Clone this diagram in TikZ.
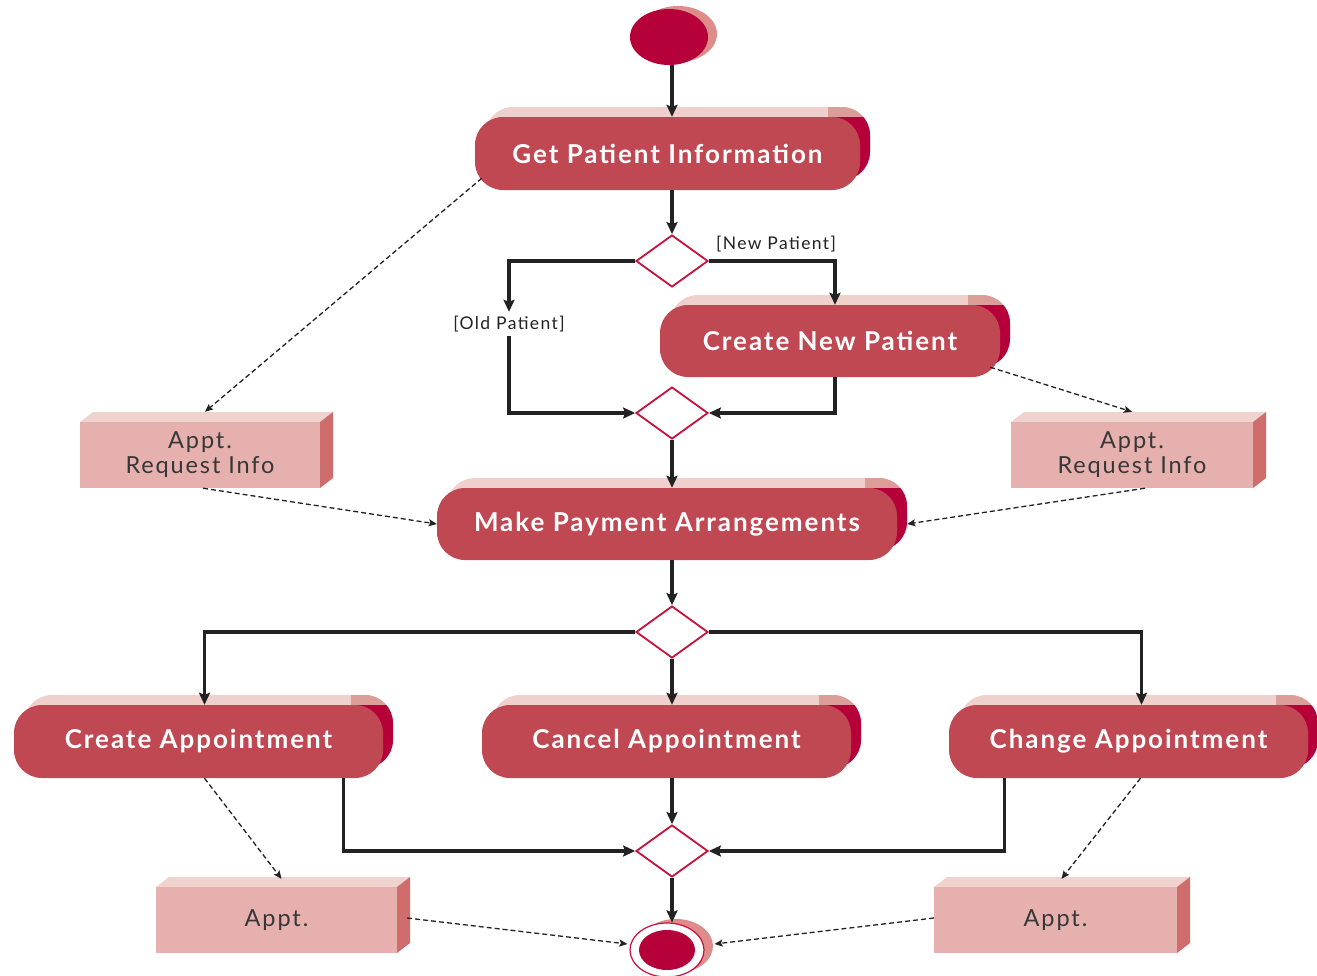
\documentclass[tikz,border=0pt]{standalone}
\usepackage{fontspec}
\setmainfont{Lato}
\newfontfamily\actfont[LetterSpace=7.5]{Lato}
\newfontfamily\objfont[LetterSpace=8]{Lato}
\usetikzlibrary{shapes.geometric,arrows.meta}
\definecolor{actFace}{RGB}{192,72,82}
\definecolor{actTop}{RGB}{240,208,205}
\definecolor{actMid}{RGB}{220,156,152}
\definecolor{crim}{RGB}{181,0,58}
\definecolor{objFace}{RGB}{229,176,173}
\definecolor{objTop}{RGB}{240,210,207}
\definecolor{objSide}{RGB}{207,109,109}
\definecolor{ink}{RGB}{34,34,34}
\definecolor{objText}{RGB}{55,55,55}
\definecolor{ballBack}{RGB}{222,140,138}
\definecolor{decLine}{RGB}{200,16,60}
\tikzset{
  acttext/.style={inner sep=0pt, text=white, font=\actfont\bfseries\fontsize{26}{28}\selectfont},
  objnode/.style={fill=objFace, inner sep=0pt, align=center, text=objText, font=\objfont\fontsize{23.5}{25}\selectfont},
  dec/.style={diamond, draw=decLine, line width=1.8pt, fill=white, minimum width=72pt, minimum height=52pt, inner sep=0pt},
  flow/.style={draw=ink, line width=3.2pt, -{Stealth[length=12pt,width=11pt,inset=2pt]}},
  dflow/.style={draw=ink, line width=1.3pt, dash pattern=on 5pt off 3pt, -{Stealth[length=8pt,width=7pt,inset=1.5pt]}},
  guard/.style={inner sep=0pt, inner ysep=4pt, text=ink, font=\objfont\fontsize{17.5}{19}\selectfont},
}
\newcommand\actbox[6]{%
  \fill[actTop, rounded corners=28pt] (#2+10,#3-10) rectangle (#4+10,#5-10);
  \begin{scope}
    \clip (#4-32,#3-14) rectangle (#4+14,#3);
    \fill[actMid, rounded corners=28pt] (#2+10,#3-10) rectangle (#4+10,#5-10);
  \end{scope}
  \begin{scope}
    \clip (#4-32,#3) rectangle (#4+14,#5);
    \fill[crim, rounded corners=28pt] (#2+10,#3-10) rectangle (#4+10,#5-10);
  \end{scope}
  \fill[actFace, rounded corners=28pt] (#2,#3) rectangle (#4,#5);
  \pgfmathsetmacro\myaw{#4-#2}\pgfmathsetmacro\myah{#5-#3}%
  \node[acttext, minimum width=\myaw pt, minimum height=\myah pt] (#1) at ({(#2+#4)/2},{(#3+#5)/2}) {#6};
}
\newcommand\objbox[6]{%
  \fill[objTop] (#2,#3) -- (#2+13,#3-10) -- (#4+13,#3-10) -- (#4,#3) -- cycle;
  \fill[objSide] (#4,#3) -- (#4+13,#3-10) -- (#4+13,#5-10) -- (#4,#5) -- cycle;
  \pgfmathsetmacro\myaw{#4-#2}\pgfmathsetmacro\myah{#5-#3}%
  \node[objnode, minimum width=\myaw pt, minimum height=\myah pt] (#1) at ({(#2+#4)/2},{(#3+#5)/2}) {#6};
}
\begin{document}
\begin{tikzpicture}[x=1pt,y=-1pt]
\useasboundingbox[fill=white] (0,0) rectangle (1317,975);

% start node
\fill[ballBack] (678,34) ellipse [x radius=39pt, y radius=28pt];
\node[ellipse, fill=crim, minimum width=78pt, minimum height=56pt, inner sep=0pt] (start) at (669,37) {};

% activities
\actbox{gpi}{475}{117}{860}{190}{Get Patient Information}
\actbox{cnp}{660}{305}{1000}{377}{Create New Patient}
\actbox{mpa}{437}{488}{897}{560}{Make Payment Arrangements}
\actbox{cra}{14}{705}{383}{778}{Create Appointment}
\actbox{caa}{482}{705}{851}{778}{Cancel Appointment}
\actbox{cha}{949}{705}{1308}{778}{Change Appointment}

% objects
\objbox{ori1}{80}{422}{320}{488}{Appt.\\Request Info}
\objbox{ori2}{1011}{422}{1253}{488}{Appt.\\Request Info}
\objbox{ap1}{156}{887}{397}{953}{Appt.}
\objbox{ap2}{934}{887}{1177}{953}{Appt.}

% decisions
\node[dec] (d1) at (672,261) {};
\node[dec] (d2) at (672,413) {};
\node[dec] (d3) at (672,632) {};
\node[dec] (d4) at (672,851) {};

% final node
\fill[ballBack] (676,946) ellipse [x radius=37pt, y radius=27pt];
\node[ellipse, draw=decLine, line width=1.2pt, fill=white, minimum width=74pt, minimum height=54pt, inner sep=0pt] (fin) at (667,950) {};
\fill[crim] (fin.center) ellipse [x radius=28pt, y radius=20pt];

% guard labels
\node[guard] (oldlbl) at (509,324) {[Old Patient]};
\node[guard] (newlbl) at (776,244) {[New Patient]};

% solid flows
\draw[flow] (start.south -| d1) -- (gpi.north -| d1);
\draw[flow] (gpi.south -| d1) -- (d1.north);
\draw[flow] (d1.west) -| (oldlbl.north);
\draw[flow] (oldlbl.south) |- (d2.west);
\draw[flow] (d1.east) -| ([xshift=5pt]cnp.north);
\draw[flow] ([xshift=5pt]cnp.south) |- (d2.east);
\draw[flow] (d2.south) -- (mpa.north -| d2);
\draw[flow] (mpa.south -| d3) -- (d3.north);
\draw[flow] (d3.west) -| ([xshift=6pt]cra.north);
\draw[flow] (d3.south) -- (caa.north -| d3);
\draw[flow] (d3.east) -| ([xshift=13pt]cha.north);
\draw[flow] ([xshift=145pt]cra.south) |- (d4.west);
\draw[flow] (caa.south -| d4) -- (d4.north);
\draw[flow] ([xshift=-124pt]cha.south) |- (d4.east);
\draw[flow] (d4.south) -- (fin.north -| d4);

% object flows
\draw[dflow] ([shift={(7,-12)}]gpi.south west) -- ([shift={(5,-10)}]ori1.north);
\draw[dflow] ([shift={(3,0)}]ori1.south) -- (mpa.west);
\draw[dflow] ([shift={(-10,-10)}]cnp.south east) -- ([shift={(0,-10)}]ori2.north);
\draw[dflow] ([xshift=13pt]ori2.south) -- ([xshift=10pt]mpa.east);
\draw[dflow] ([xshift=6pt]cra.south) -- ([shift={(5,-8)}]ap1.north);
\draw[dflow] ([shift={(10,-2)}]ap1.east) -- ([shift={(-2,-6)}]fin.west);
\draw[dflow] ([xshift=12pt]cha.south) -- ([shift={(6,-8)}]ap2.north);
\draw[dflow] ([shift={(0,-2)}]ap2.west) -- ([shift={(10,-6)}]fin.east);
\end{tikzpicture}
\end{document}
